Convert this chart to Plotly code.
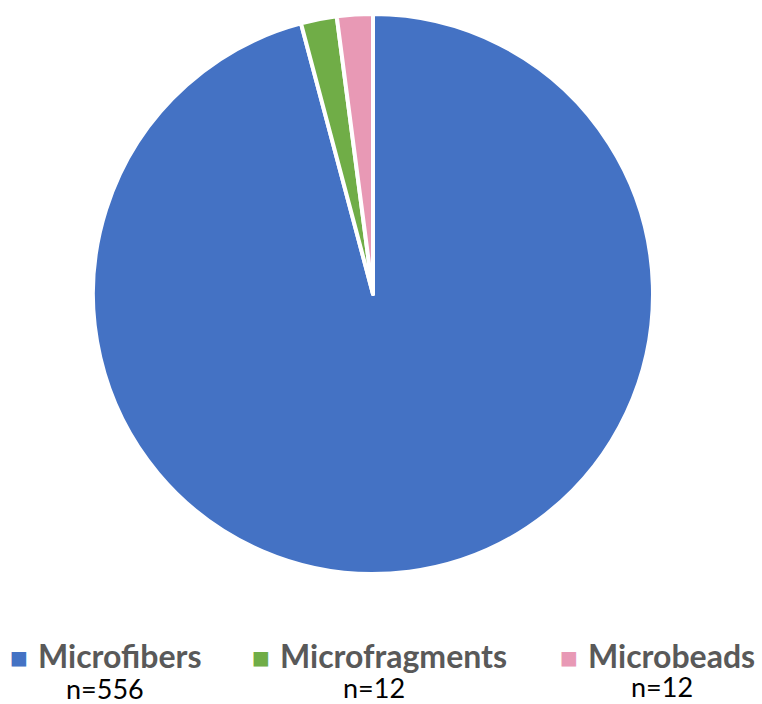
import plotly.graph_objects as go

categories = ["Microfibers", "Microfragments", "Microbeads"]
counts = [556, 12, 12]
colors = ["#4472C4", "#70AD47", "#E899B5"]
count_labels = ["n=556", "n=12", "n=12"]

W, H = 762, 704

fig = go.Figure(go.Pie(
    labels=categories,
    values=counts,
    sort=False,
    direction="clockwise",
    rotation=0,
    marker=dict(colors=colors, line=dict(color="white", width=4)),
    textinfo="none",
    hoverinfo="label+value",
    showlegend=False,
    domain=dict(x=[(373 - 280) / W, (373 + 280) / W],
                y=[(H - 574) / H, (H - 14) / H]),
))

# custom legend (category name + count below)
sq_x = [19, 261, 569]
txt_x = [36, 278, 586]
leg_y = 655
cnt_x = [105, 374, 662]
cnt_y = [688, 687, 686]
for name, col, sx, tx, cl, cx, cy in zip(categories, colors, sq_x, txt_x,
                                          count_labels, cnt_x, cnt_y):
    fig.add_annotation(text="■", x=sx / W, y=1 - (leg_y + 2) / H, xref="paper", yref="paper",
                       showarrow=False, xanchor="center", yanchor="middle",
                       font=dict(family="DejaVu Sans", size=19, color=col))
    fig.add_annotation(text=f"<b>{name}</b>", x=tx / W, y=1 - leg_y / H,
                       xref="paper", yref="paper", showarrow=False,
                       xanchor="left", yanchor="middle",
                       font=dict(family="Lato", size=32, color="#595959"))
    fig.add_annotation(text=cl, x=cx / W, y=1 - cy / H, xref="paper", yref="paper",
                       showarrow=False, xanchor="center", yanchor="middle",
                       font=dict(family="Lato", size=27, color="black"))

fig.update_layout(
    width=W, height=H,
    margin=dict(l=0, r=0, t=0, b=0, autoexpand=False),
    paper_bgcolor="white",
    plot_bgcolor="white",
)

fig.write_html("out.html")
